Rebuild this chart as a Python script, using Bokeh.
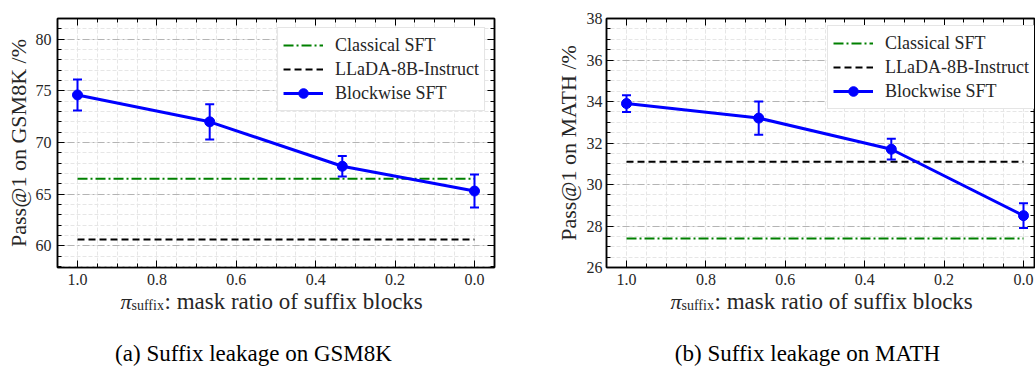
from bokeh.plotting import figure
from bokeh.models import (Range1d, LinearAxis, SingleIntervalTicker, PrintfTickFormatter,
                          Legend, LegendItem, Label, ColumnDataSource)
from bokeh.layouts import row, column
from bokeh.embed import file_html
from bokeh.resources import INLINE

# ---------------- data ----------------
mask_ratio = [1.0, 0.667, 0.333, 0.0]

gsm8k_blockwise = [74.6, 72.0, 67.7, 65.3]
gsm8k_low = [73.1, 70.3, 66.7, 63.7]
gsm8k_high = [76.1, 73.7, 68.7, 66.9]
gsm8k_classical = 66.5
gsm8k_llada = 60.6

math_blockwise = [33.9, 33.2, 31.7, 28.5]
math_low = [33.5, 32.4, 31.2, 27.9]
math_high = [34.3, 34.0, 32.2, 29.1]
math_classical = 27.4
math_llada = 31.1

legend_labels = ["Classical SFT", "LLaDA-8B-Instruct", "Blockwise SFT"]
y_labels = ["Pass@1 on GSM8K /%", "Pass@1 on MATH /%"]
captions = ["(a) Suffix leakage on GSM8K", "(b) Suffix leakage on MATH"]

SERIF = "Liberation Serif"
TXT = "#262626"
BLUE = "#0000ff"
GREEN = "#008000"
PANEL_H = 292


def style_axis(ax, ticker, show_labels):
    ax.ticker = ticker
    ax.axis_line_color = "black"
    ax.axis_line_width = 1.5
    ax.major_tick_line_color = "black"
    ax.minor_tick_line_color = "black"
    ax.major_tick_in = 7
    ax.major_tick_out = 0
    ax.minor_tick_in = 4
    ax.minor_tick_out = 0
    ax.major_label_text_font = SERIF
    if show_labels:
        ax.major_label_text_color = TXT
        ax.major_label_text_font_size = "16px"
    else:
        ax.major_label_text_color = None
        ax.major_label_text_font_size = "0px"
        ax.major_label_standoff = 0


def make_panel(width, xr, yr, ymaj, yminor, vals, low, high, cls, llada,
               ylabel, border_left, border_right, border_top,
               legend_loc, ylab_standoff, tick_standoff):
    p = figure(width=width, height=PANEL_H, x_range=Range1d(*xr), y_range=Range1d(*yr),
               output_backend="svg", toolbar_location=None,
               min_border_left=border_left, min_border_right=border_right,
               min_border_top=border_top, min_border_bottom=25)
    p.outline_line_color = "black"
    p.outline_line_width = 1.5
    p.background_fill_color = "white"
    p.border_fill_color = "white"

    style_axis(p.xaxis[0], SingleIntervalTicker(interval=0.2, num_minor_ticks=4), True)
    p.xaxis[0].formatter = PrintfTickFormatter(format="%.1f")
    p.xaxis[0].major_label_standoff = 6
    style_axis(p.yaxis[0], SingleIntervalTicker(interval=ymaj, num_minor_ticks=yminor), True)
    p.yaxis[0].major_label_standoff = tick_standoff
    p.yaxis[0].axis_label = ylabel
    p.yaxis[0].axis_label_text_font = SERIF
    p.yaxis[0].axis_label_text_font_style = "normal"
    p.yaxis[0].axis_label_text_font_size = "22px"
    p.yaxis[0].axis_label_text_color = TXT
    p.yaxis[0].axis_label_standoff = ylab_standoff

    top = LinearAxis()
    style_axis(top, SingleIntervalTicker(interval=0.2, num_minor_ticks=4), False)
    p.add_layout(top, "above")
    right = LinearAxis()
    style_axis(right, SingleIntervalTicker(interval=ymaj, num_minor_ticks=yminor), False)
    p.add_layout(right, "right")

    p.xgrid.grid_line_color = "#e6e6e6"
    p.xgrid.grid_line_dash = "4 2"
    p.xgrid.minor_grid_line_color = "#e6e6e6"
    p.xgrid.minor_grid_line_dash = "4 2"
    p.ygrid.grid_line_color = "#b4b4b4"
    p.ygrid.grid_line_dash = "7 3 2 3"
    p.ygrid.minor_grid_line_color = "#e6e6e6"
    p.ygrid.minor_grid_line_dash = "4 2"

    xs_h = [mask_ratio[0], mask_ratio[-1]]
    r_cls = p.line(xs_h, [cls, cls], line_color=GREEN, line_width=2, line_dash="10 3 2 3")
    r_lla = p.line(xs_h, [llada, llada], line_color="black", line_width=2, line_dash="7 4")

    src = ColumnDataSource(dict(x=mask_ratio, y=vals, lo=low, hi=high))
    p.segment(x0="x", y0="lo", x1="x", y1="hi", source=src, line_color=BLUE, line_width=2)
    p.scatter("x", "lo", source=src, marker="dash", size=9, line_color=BLUE, line_width=2)
    p.scatter("x", "hi", source=src, marker="dash", size=9, line_color=BLUE, line_width=2)
    r_line = p.line("x", "y", source=src, line_color=BLUE, line_width=3)
    r_pts = p.scatter("x", "y", source=src, marker="circle", size=10,
                      fill_color=BLUE, line_color=BLUE)

    legend = Legend(items=[LegendItem(label=legend_labels[0], renderers=[r_cls]),
                           LegendItem(label=legend_labels[1], renderers=[r_lla]),
                           LegendItem(label=legend_labels[2], renderers=[r_line, r_pts])],
                    location=legend_loc)
    legend.label_text_font = SERIF
    legend.label_text_font_size = "18px"
    legend.label_text_color = TXT
    legend.glyph_width = 40
    legend.glyph_height = 24
    legend.label_height = 24
    legend.label_width = 143
    legend.label_standoff = 12
    legend.spacing = 0
    legend.padding = 5
    legend.margin = 9
    legend.border_line_color = "#cccccc"
    legend.border_line_width = 1
    legend.background_fill_color = "white"
    legend.background_fill_alpha = 1.0
    p.add_layout(legend, "center")
    return p


p1 = make_panel(528, (1.0504, -0.0504), (57.9, 82.0), 5, 5,
                gsm8k_blockwise, gsm8k_low, gsm8k_high, gsm8k_classical, gsm8k_llada,
                y_labels[0], 57, 34, 12, "top_right", 2, 6)
p2 = make_panel(507, (1.0504, -0.0277), (26.0, 38.0), 2, 4,
                math_blockwise, math_low, math_high, math_classical, math_llada,
                y_labels[1], 78, 1, 18, (221, 158), 3, 4)

# ---------- transparent text strip below the panels: x-axis titles and sub-captions ----------
CW, CH = 1035, 92
cap = figure(width=CW, height=CH, x_range=Range1d(0, CW), y_range=Range1d(0, CH),
             output_backend="svg", toolbar_location=None,
             x_axis_type=None, y_axis_type=None,
             min_border_left=0, min_border_right=0, min_border_top=0, min_border_bottom=0,
             margin=(-16, 0, 0, 0))
cap.outline_line_color = None
cap.background_fill_color = None
cap.border_fill_color = None
cap.xgrid.visible = False
cap.ygrid.visible = False

for x_start in (120, 670):
    cap.add_layout(Label(x=x_start, y=67, text="π", text_font=SERIF,
                         text_font_style="italic", text_font_size="22px",
                         text_color=TXT, text_baseline="alphabetic", text_align="left"))
    cap.add_layout(Label(x=x_start + 11, y=63, text="suffix", text_font=SERIF,
                         text_font_size="14px",
                         text_color=TXT, text_baseline="alphabetic", text_align="left"))
    cap.add_layout(Label(x=x_start + 44, y=67, text=": mask ratio of suffix blocks",
                         text_font=SERIF, text_font_size="23px",
                         text_color=TXT, text_baseline="alphabetic", text_align="left"))

for cx, txt in zip((253, 807), captions):
    cap.add_layout(Label(x=cx, y=15, text=txt, text_font=SERIF, text_font_size="23px",
                         text_color="black", text_baseline="alphabetic", text_align="center"))

layout = column(row(p1, p2), cap, spacing=0)
with open("out.html", "w") as f:
    f.write(file_html(layout, INLINE))
